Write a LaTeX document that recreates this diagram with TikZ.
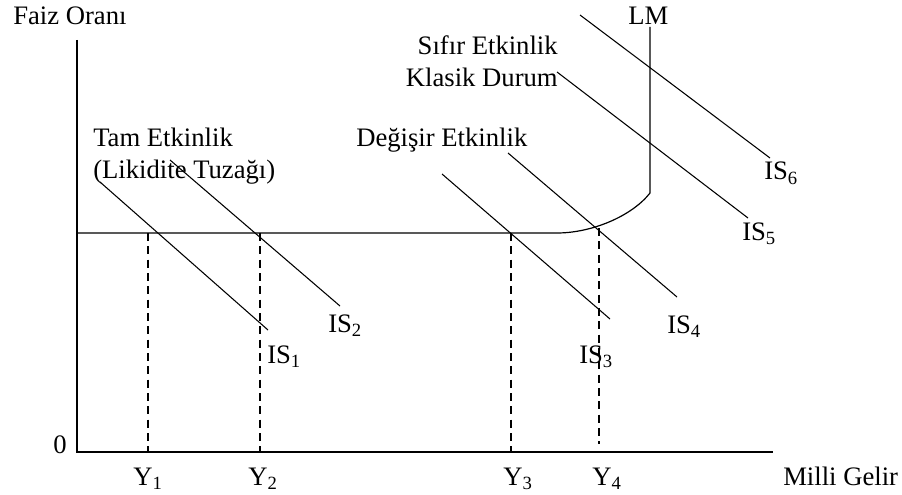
\documentclass[tikz,border=0pt]{standalone}
\usepackage{fontspec}
\setmainfont{Liberation Serif}
\usepackage{tikz}

\begin{document}
\begin{tikzpicture}[
    x=0.75pt, y=-0.75pt,
    every node/.style={inner sep=0pt, font=\fontsize{20}{24}\selectfont},
    lbl/.style={anchor=base west},
    axis/.style={line width=1.1pt},
    lmline/.style={line width=0.9pt},
    isline/.style={line width=0.8pt},
    guide/.style={line width=0.8pt, dash pattern=on 6pt off 4pt}
]
\useasboundingbox (0,0) rectangle (902,495);

% Axes
\coordinate (top) at (77,40);
\coordinate (origin) at (77,452);
\coordinate (right) at (773,452);
\draw[axis] (top) -- (origin) -- (right);

% LM curve
\coordinate (lmflat) at (557,233);
\coordinate (lmkink) at (650,193);
\coordinate (lmtop) at (650,27);
\draw[lmline] (77,233) -- (lmflat) .. controls (592,233) and (632,216) .. (lmkink) -- (lmtop);

% IS curves
\draw[isline] (100,182) -- (268,330);
\draw[isline] (170,160) -- (340,306);
\draw[isline] (442,174) -- (610,319);
\draw[isline] (508,153) -- (677,297);
\draw[isline] (557,72) -- (748,218);
\draw[isline] (580,15) -- (770,158);

% Income levels
\draw[guide] (148,233) -- (148,452);
\draw[guide] (260,233) -- (260,452);
\draw[guide] (511,233) -- (511,452);
\draw[guide] (599,228) -- (599,444);

% Labels
\node[lbl] (faiz) at (13,25) {Faiz Oranı};
\node[lbl] (milli) at (783,485) {Milli Gelir};
\node[lbl] (zero) at (53,453) {0};
\node[lbl] (lm) at (628,25) {LM};
\node[lbl, align=left] (tam) at (93,179) {Tam Etkinlik\\(Likidite Tuzağı)};
\node[anchor=base east, align=right] (sifir) at (558,87) {Sıfır Etkinlik\\Klasik Durum};
\node[lbl] (degisir) at (356,147) {Değişir Etkinlik};

\node[lbl] (is1) at (267,363) {IS\textsubscript{1}};
\node[lbl] (is2) at (328,332) {IS\textsubscript{2}};
\node[lbl] (is3) at (579,363) {IS\textsubscript{3}};
\node[lbl] (is4) at (667,333) {IS\textsubscript{4}};
\node[lbl] (is5) at (742,240) {IS\textsubscript{5}};
\node[lbl] (is6) at (764,180) {IS\textsubscript{6}};

\node[lbl] (y1) at (133,485) {Y\textsubscript{1}};
\node[lbl] (y2) at (248,485) {Y\textsubscript{2}};
\node[lbl] (y3) at (503,485) {Y\textsubscript{3}};
\node[lbl] (y4) at (592,485) {Y\textsubscript{4}};

\end{tikzpicture}
\end{document}
